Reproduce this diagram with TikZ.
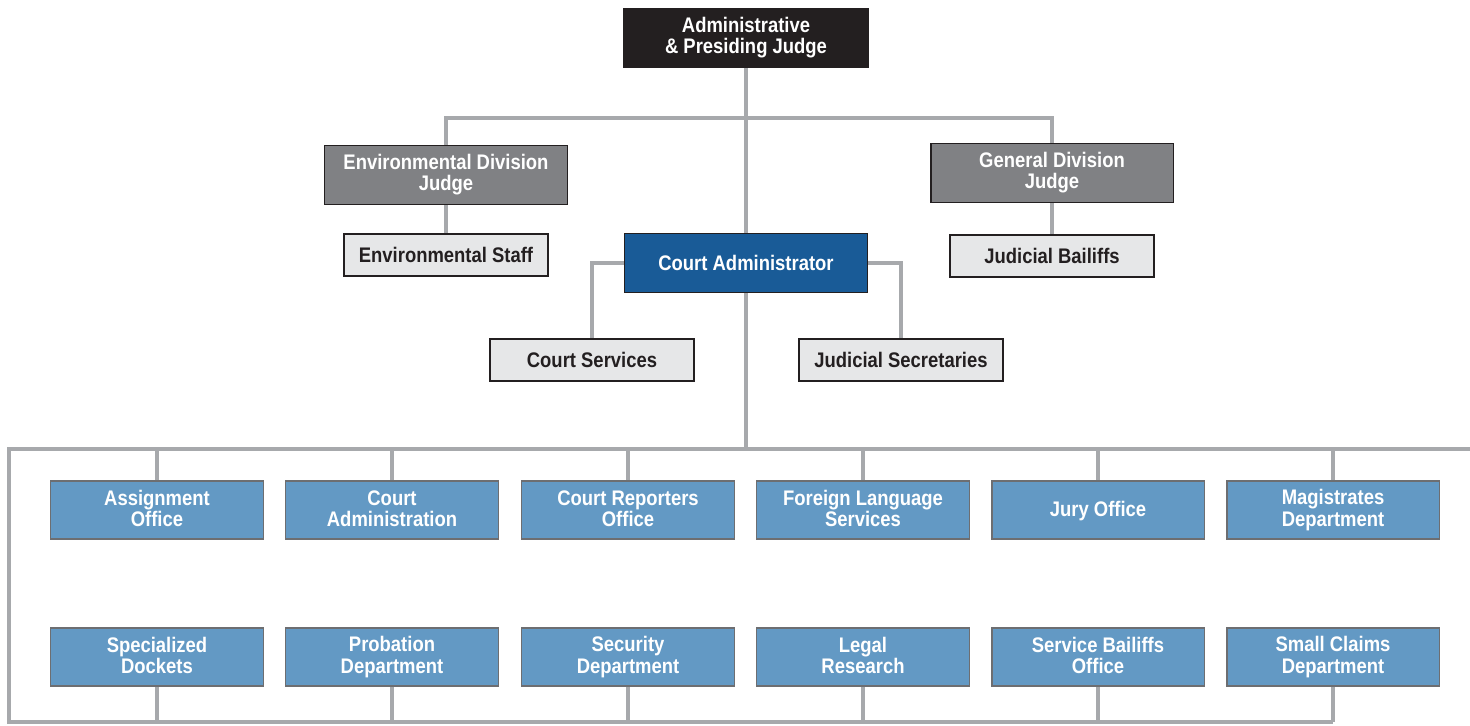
\documentclass[tikz,border=0pt]{standalone}
\usepackage{fontspec}
\setmainfont[FakeStretch=0.875]{Liberation Sans}
\usepackage{tikz}
\usetikzlibrary{backgrounds}

\definecolor{topfill}{HTML}{231F20}
\definecolor{judgefill}{HTML}{808184}
\definecolor{stafffill}{HTML}{E6E7E8}
\definecolor{adminfill}{HTML}{195B97}
\definecolor{deptfill}{HTML}{6399C4}
\definecolor{deptline}{HTML}{6D6E71}
\definecolor{linkgrey}{HTML}{A7A9AC}

\tikzset{
    box/.style={draw=topfill, line width=1.1pt, align=center, inner sep=0pt,
        font=\bfseries\fontsize{12}{12}\selectfont,
        execute at begin node={\rule{0pt}{10pt}},
        execute at end node={\rule[-1.5pt]{0pt}{1.5pt}}},
    topbox/.style={box, fill=topfill, text=white, minimum width=4.9cm, minimum height=1.16cm},
    judgebox/.style={box, fill=judgefill, text=white, minimum width=4.86cm, minimum height=1.18cm},
    staffbox/.style={box, fill=stafffill, text=topfill, minimum width=4.08cm, minimum height=0.84cm},
    adminbox/.style={box, fill=adminfill, text=white, minimum width=4.86cm, minimum height=1.18cm},
    deptbox/.style={box, draw=deptline, fill=deptfill, text=white, minimum width=4.26cm, minimum height=1.16cm},
    link/.style={draw=linkgrey, line width=2.2pt}
}

\begin{document}
\begin{tikzpicture}[x=0.02cm, y=-0.02cm]
    \useasboundingbox (0,0) rectangle (1470,725);

    % people at the top
    \node[topbox] (presiding) at (746,38) {Administrative\\\& Presiding Judge};
    \node[judgebox] (envjudge) at (446,175) {Environmental Division\\Judge};
    \node[judgebox] (genjudge) at (1052,173) {General Division\\Judge};
    \node[staffbox] (envstaff) at (446,255) {Environmental Staff};
    \node[staffbox] (bailiffs) at (1052,256) {Judicial Bailiffs};
    \node[adminbox] (courtadmin) at (746,263) {Court Administrator};
    \node[staffbox] (services) at (592,360) {Court Services};
    \node[staffbox] (secretaries) at (901,360) {Judicial Secretaries};

    % departments, first row
    \node[deptbox] (assign) at (157,510) {Assignment\\Office};
    \node[deptbox] (admin) at (392,510) {Court\\Administration};
    \node[deptbox] (reporters) at (628,510) {Court Reporters\\Office};
    \node[deptbox] (language) at (863,510) {Foreign Language\\Services};
    \node[deptbox] (jury) at (1098,510) {Jury Office};
    \node[deptbox] (magistrates) at (1333,510) {Magistrates\\Department};

    % departments, second row
    \node[deptbox] (dockets) at (157,657) {Specialized\\Dockets};
    \node[deptbox] (probation) at (392,657) {Probation\\Department};
    \node[deptbox] (security) at (628,657) {Security\\Department};
    \node[deptbox] (research) at (863,657) {Legal\\Research};
    \node[deptbox] (service) at (1098,657) {Service Bailiffs\\Office};
    \node[deptbox] (claims) at (1333,657) {Small Claims\\Department};

    \coordinate (judgebar) at (746,118);
    \coordinate (bustopl) at (9,449);
    \coordinate (bustopr) at (1470,449);
    \coordinate (busbotl) at (9,722);
    \coordinate (busbotr) at (1333,722);

    \begin{scope}[on background layer]
    \draw[link] (presiding.south) -- (courtadmin.north);
    \draw[link] (envjudge.north) |- (judgebar) -| (genjudge.north);
    \draw[link] (envjudge.south) -- (envstaff.north);
    \draw[link] (genjudge.south) -- (bailiffs.north);
    \draw[link] (courtadmin.west) -| (services.north);
    \draw[link] (courtadmin.east) -| (secretaries.north);
    \draw[link] (courtadmin.south) -- (courtadmin.south |- bustopl);
    \draw[link] (bustopr) -- (bustopl) -- (busbotl) -- (busbotr);
    \draw[link] (assign.north) -- (assign.north |- bustopl);
    \draw[link] (admin.north) -- (admin.north |- bustopl);
    \draw[link] (reporters.north) -- (reporters.north |- bustopl);
    \draw[link] (language.north) -- (language.north |- bustopl);
    \draw[link] (jury.north) -- (jury.north |- bustopl);
    \draw[link] (magistrates.north) -- (magistrates.north |- bustopl);
    \draw[link] (dockets.south) -- (dockets.south |- busbotl);
    \draw[link] (probation.south) -- (probation.south |- busbotl);
    \draw[link] (security.south) -- (security.south |- busbotl);
    \draw[link] (research.south) -- (research.south |- busbotl);
    \draw[link] (service.south) -- (service.south |- busbotl);
    \draw[link] (claims.south) -- (claims.south |- busbotl);
    \end{scope}
\end{tikzpicture}
\end{document}
